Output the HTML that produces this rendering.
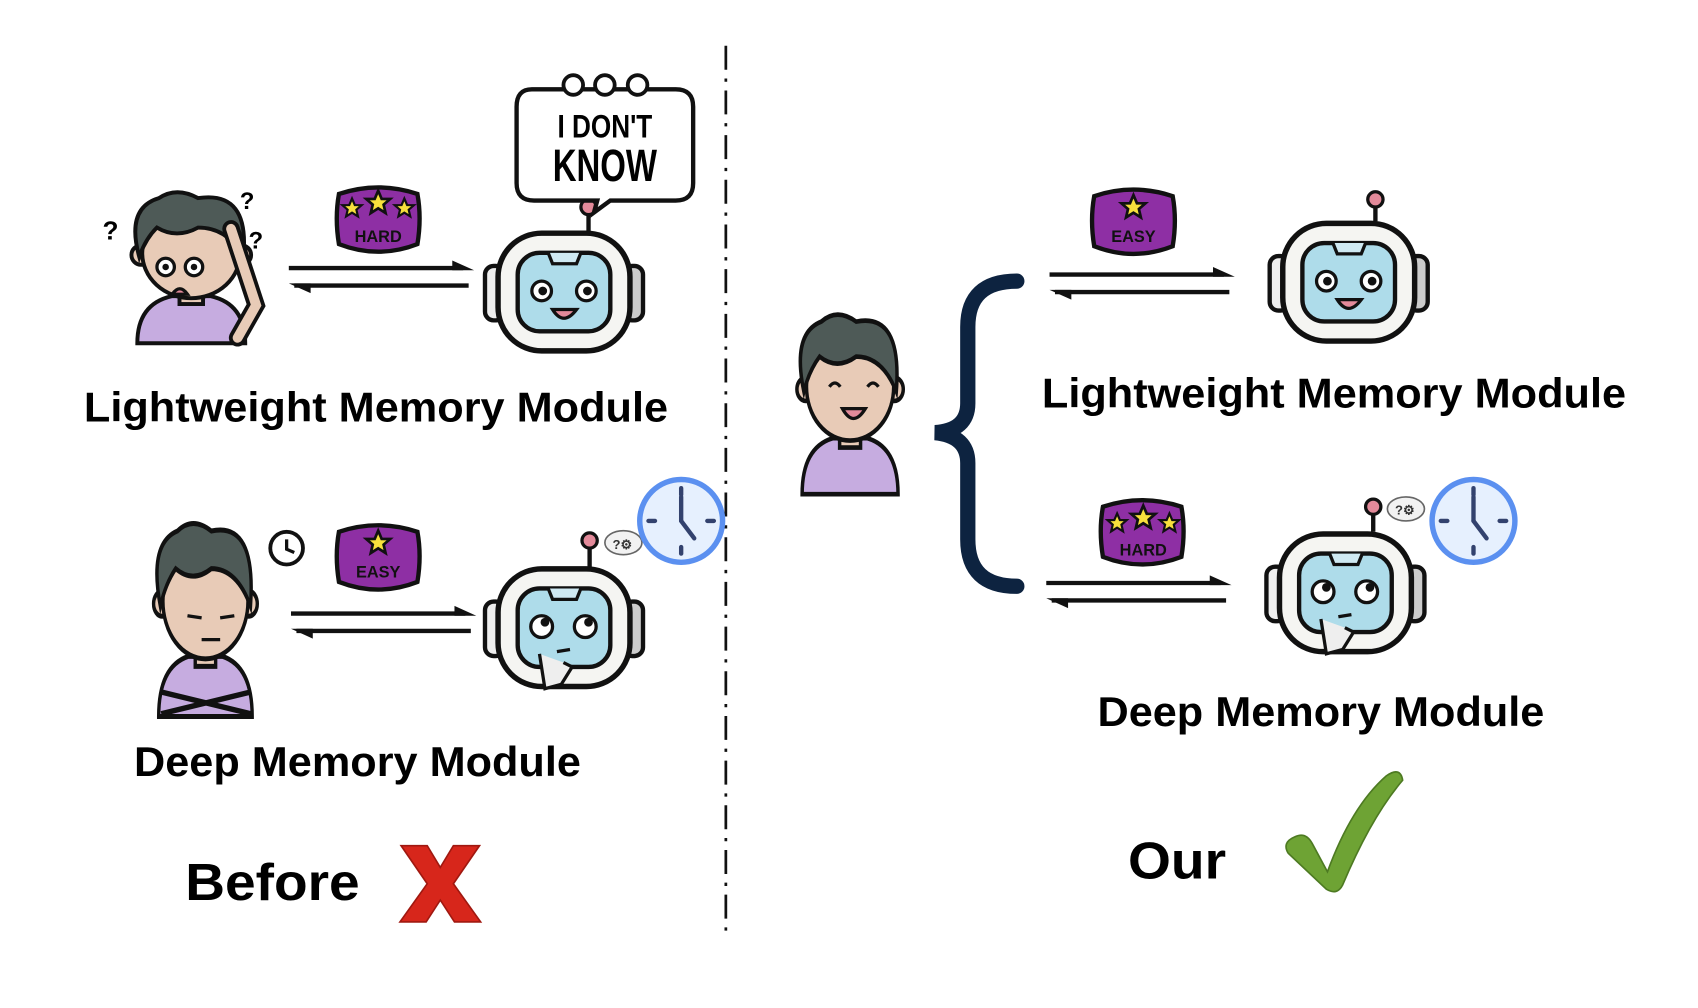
<!DOCTYPE html>
<html><head><meta charset="utf-8"><style>
html,body{margin:0;padding:0;background:#fff;}
svg{display:block;}
text{font-family:"Liberation Sans",Arial,sans-serif;font-weight:bold;}
</style></head><body>
<svg width="1698" height="1008" viewBox="0 0 1558 925" preserveAspectRatio="none" xmlns="http://www.w3.org/2000/svg">
<defs>
  <g id="robot">
    <rect x="0" y="32" width="18" height="50" rx="8" fill="#eee" stroke="#111" stroke-width="4"/>
    <rect x="127" y="32" width="18" height="50" rx="8" fill="#ccc" stroke="#111" stroke-width="4"/>
    <rect x="12" y="2" width="121" height="108" rx="40" fill="#f5f5f2" stroke="#111" stroke-width="5"/>
    <rect x="30" y="20" width="85" height="72" rx="20" fill="#aedcea" stroke="#111" stroke-width="4"/>
    <path d="M58 20 L62 30 L84 30 L88 20" fill="#cfe9f2" stroke="#111" stroke-width="3"/>
  </g>
  <g id="face_happy">
    <circle cx="52" cy="55" r="9" fill="#fff" stroke="#111" stroke-width="3"/>
    <circle cx="53" cy="55" r="4" fill="#111"/>
    <circle cx="93" cy="55" r="9" fill="#fff" stroke="#111" stroke-width="3"/>
    <circle cx="94" cy="55" r="4" fill="#111"/>
    <path d="M62 72 Q72 88 84 72 Z" fill="#e38a9a" stroke="#111" stroke-width="3"/>
  </g>
  <g id="face_think">
    <circle cx="52" cy="55" r="10" fill="#fff" stroke="#111" stroke-width="3"/>
    <circle cx="55" cy="51" r="4" fill="#111"/>
    <circle cx="92" cy="55" r="10" fill="#fff" stroke="#111" stroke-width="3"/>
    <circle cx="95" cy="51" r="4" fill="#111"/>
    <path d="M66 78 L78 76" stroke="#111" stroke-width="3"/>
    <path d="M50 80 L55 112 L70 108 L80 92 L72 88" fill="#eee" stroke="#111" stroke-width="3"/>
  </g>
  <g id="badge">
    <path d="M4 10 Q40 -2 76 10 Q80 32 76 56 Q40 70 4 56 Q0 32 4 10 Z" fill="#8e2fa4" stroke="#111" stroke-width="4"/>
  </g>
  <path id="star" d="M0 -11 L3.2 -3.5 L11 -3.4 L5 1.8 L6.8 9.5 L0 5.2 L-6.8 9.5 L-5 1.8 L-11 -3.4 L-3.2 -3.5 Z" fill="#f7e03c" stroke="#111" stroke-width="2.5"/>
  <g id="clock">
    <circle cx="0" cy="0" r="38" fill="#e6f0fe" stroke="#5b90f0" stroke-width="5"/>
    <g stroke="#33426e" stroke-width="4" stroke-linecap="round">
      <line x1="0" y1="-30" x2="0" y2="-24"/><line x1="0" y1="30" x2="0" y2="24"/>
      <line x1="-30" y1="0" x2="-24" y2="0"/><line x1="30" y1="0" x2="24" y2="0"/>
      <line x1="0" y1="0" x2="0" y2="-22"/><line x1="0" y1="0" x2="12" y2="16"/>
    </g>
  </g>
  <g id="personbase">
    <path d="M20 150 Q20 110 55 102 L95 102 Q130 110 130 150 Z" fill="#c6ace0" stroke="#111" stroke-width="4"/>
    <rect x="63" y="90" width="24" height="20" fill="#e8cbb7" stroke="#111" stroke-width="4"/>
    <circle cx="24" cy="60" r="10" fill="#e8cbb7" stroke="#111" stroke-width="4"/>
    <circle cx="126" cy="60" r="10" fill="#e8cbb7" stroke="#111" stroke-width="4"/>
    <ellipse cx="75" cy="58" rx="50" ry="46" fill="#e8cbb7" stroke="#111" stroke-width="4"/>
    <path d="M22 62 Q8 12 42 2 Q60 -10 82 2 Q135 -6 128 62 Q112 32 82 32 Q60 44 40 32 Q28 44 22 62 Z" fill="#4e5a57" stroke="#111" stroke-width="4"/>
  </g>
  <g id="arrows">
    <line x1="0" y1="0" x2="160" y2="0" stroke="#111" stroke-width="4"/>
    <path d="M150 -7 L170 2 L150 2 Z" fill="#111"/>
    <line x1="5" y1="16" x2="165" y2="16" stroke="#111" stroke-width="4"/>
    <path d="M20 23 L0 14 L20 14 Z" fill="#111"/>
  </g>
</defs>

<line x1="666" y1="42" x2="666" y2="855" stroke="#111" stroke-width="2.5" stroke-dasharray="22,8,3,8"/>

<!-- LEFT TOP -->
<g transform="translate(100,180)">
  <use href="#personbase" transform="translate(8,0) scale(0.9)"/>
  <circle cx="52" cy="65" r="8" fill="#fff" stroke="#111" stroke-width="3"/><circle cx="78" cy="65" r="8" fill="#fff" stroke="#111" stroke-width="3"/>
  <circle cx="52" cy="65" r="3" fill="#111"/><circle cx="78" cy="65" r="3" fill="#111"/>
  <path d="M58 90 Q65 80 72 90 Z" fill="#e38a9a" stroke="#111" stroke-width="3"/>
  <path d="M112 30 L135 100 L118 130" fill="none" stroke="#111" stroke-width="16" stroke-linecap="round"/>
  <path d="M112 30 L135 100 L118 130" fill="none" stroke="#e8cbb7" stroke-width="9" stroke-linecap="round"/>
  <text x="-6" y="40" font-size="24">?</text>
  <text x="120" y="12" font-size="22">?</text>
  <text x="128" y="48" font-size="22">?</text>
</g>
<use href="#badge" transform="translate(307,168)"/>
<use href="#star" transform="translate(323,191) scale(0.8)"/><use href="#star" transform="translate(347,186)"/><use href="#star" transform="translate(371,191) scale(0.8)"/>
<text x="347" y="222" font-size="15" text-anchor="middle" fill="#111">HARD</text>
<use href="#arrows" transform="translate(265,246)"/>
<use href="#robot" transform="translate(445,212)"/><use href="#face_happy" transform="translate(445,212)"/>
<line x1="540" y1="212" x2="540" y2="195" stroke="#111" stroke-width="4"/>
<circle cx="540" cy="190" r="7" fill="#e38a9a" stroke="#111" stroke-width="3"/>
<path d="M488 82 L620 82 Q636 82 636 98 L636 168 Q636 184 620 184 L560 184 L545 195 L548 184 L490 184 Q474 184 474 168 L474 98 Q474 82 488 82 Z" fill="#fff" stroke="#111" stroke-width="4"/>
<circle cx="526" cy="78" r="9" fill="#fff" stroke="#111" stroke-width="3.5"/><circle cx="555" cy="78" r="9" fill="#fff" stroke="#111" stroke-width="3.5"/><circle cx="585" cy="78" r="9" fill="#fff" stroke="#111" stroke-width="3.5"/>
<text x="555" y="126" font-size="30" text-anchor="middle" transform="translate(555,0) scale(0.8,1) translate(-555,0)">I DON'T</text>
<text x="555" y="166" font-size="42" text-anchor="middle" transform="translate(555,0) scale(0.72,1) translate(-555,0)">KNOW</text>
<text x="77" y="387" font-size="38" textLength="536" lengthAdjust="spacingAndGlyphs" fill="#000">Lightweight Memory Module</text>

<!-- LEFT BOTTOM -->
<g transform="translate(130,485)">
  <use href="#personbase" transform="translate(0,0) scale(0.78,1.15)"/>
  <path d="M42 80 L55 82 M72 82 L85 80" stroke="#111" stroke-width="3"/>
  <path d="M55 102 L72 102" stroke="#111" stroke-width="3"/>
  <path d="M18 170 L100 150 M18 150 L100 170" stroke="#111" stroke-width="5"/>
  <circle cx="133" cy="18" r="15" fill="#fff" stroke="#111" stroke-width="3.5"/>
  <path d="M133 10 L133 19 L140 22" fill="none" stroke="#111" stroke-width="3"/>
</g>
<use href="#badge" transform="translate(307,478)"/>
<use href="#star" transform="translate(347,498)"/>
<text x="347" y="530" font-size="15" text-anchor="middle" fill="#111">EASY</text>
<use href="#arrows" transform="translate(267,563)"/>
<use href="#robot" transform="translate(445,520)"/><use href="#face_think" transform="translate(445,520)"/>
<line x1="541" y1="520" x2="541" y2="502" stroke="#111" stroke-width="4"/>
<circle cx="541" cy="496" r="7" fill="#e38a9a" stroke="#111" stroke-width="3"/>
<ellipse cx="572" cy="498" rx="17" ry="11" fill="#f2f2f2" stroke="#666" stroke-width="1.5"/>
<text x="562" y="504" font-size="12" font-weight="normal" fill="#333">?⚙</text>
<use href="#clock" transform="translate(625,478)"/>
<text x="123" y="712" font-size="38" textLength="410" lengthAdjust="spacingAndGlyphs" fill="#000">Deep Memory Module</text>

<text x="170" y="826" font-size="48" textLength="160" lengthAdjust="spacingAndGlyphs" fill="#000">Before</text>
<path d="M368 776 L392 776 L404 796 L416 776 L440 776 L416 811 L441 846 L417 846 L404 826 L391 846 L367 846 L392 811 Z" fill="#d7261b" stroke="#a01810" stroke-width="1.5"/>

<!-- RIGHT -->
<g transform="translate(728,293)">
  <use href="#personbase" transform="translate(-8,0) scale(0.8,1.07)"/>
  <path d="M33 62 Q38 55 43 62 M68 62 Q73 55 78 62" fill="none" stroke="#111" stroke-width="3"/>
  <path d="M45 82 Q55 100 66 82 Z" fill="#e38a9a" stroke="#111" stroke-width="3"/>
</g>
<path d="M933 258 Q888 258 888 300 L888 370 Q888 395 858 397 Q888 400 888 425 L888 495 Q888 538 933 538" fill="none" stroke="#0d2340" stroke-width="14" stroke-linecap="round"/>

<use href="#badge" transform="translate(1000,170)"/>
<use href="#star" transform="translate(1040,190)"/>
<text x="1040" y="222" font-size="15" text-anchor="middle" fill="#111">EASY</text>
<use href="#arrows" transform="translate(963,252)"/>
<use href="#robot" transform="translate(1165,203)"/><use href="#face_happy" transform="translate(1165,203)"/>
<line x1="1262" y1="203" x2="1262" y2="188" stroke="#111" stroke-width="4"/>
<circle cx="1262" cy="183" r="7" fill="#e38a9a" stroke="#111" stroke-width="3"/>
<text x="956" y="374" font-size="38" textLength="536" lengthAdjust="spacingAndGlyphs" fill="#000">Lightweight Memory Module</text>

<use href="#badge" transform="translate(1008,455)"/>
<use href="#star" transform="translate(1025,480) scale(0.8)"/><use href="#star" transform="translate(1049,475)"/><use href="#star" transform="translate(1073,480) scale(0.8)"/>
<text x="1049" y="510" font-size="15" text-anchor="middle" fill="#111">HARD</text>
<use href="#arrows" transform="translate(960,535)"/>
<use href="#robot" transform="translate(1162,488)"/><use href="#face_think" transform="translate(1162,488)"/>
<line x1="1260" y1="488" x2="1260" y2="470" stroke="#111" stroke-width="4"/>
<circle cx="1260" cy="465" r="7" fill="#e38a9a" stroke="#111" stroke-width="3"/>
<ellipse cx="1290" cy="467" rx="17" ry="11" fill="#f2f2f2" stroke="#666" stroke-width="1.5"/>
<text x="1280" y="472" font-size="12" font-weight="normal" fill="#333">?⚙</text>
<use href="#clock" transform="translate(1352,478)"/>
<text x="1007" y="666" font-size="38" textLength="410" lengthAdjust="spacingAndGlyphs" fill="#000">Deep Memory Module</text>

<text x="1035" y="806" font-size="48" textLength="90" lengthAdjust="spacingAndGlyphs" fill="#000">Our</text>
<path d="M1182 783 Q1176 773 1188 768 Q1198 763 1204 774 L1218 800 Q1240 740 1272 712 Q1285 703 1287 716 Q1258 750 1232 812 Q1227 822 1217 816 Z" fill="#6ea334" stroke="#4d7a22" stroke-width="1.5"/>
</svg>
</body></html>
